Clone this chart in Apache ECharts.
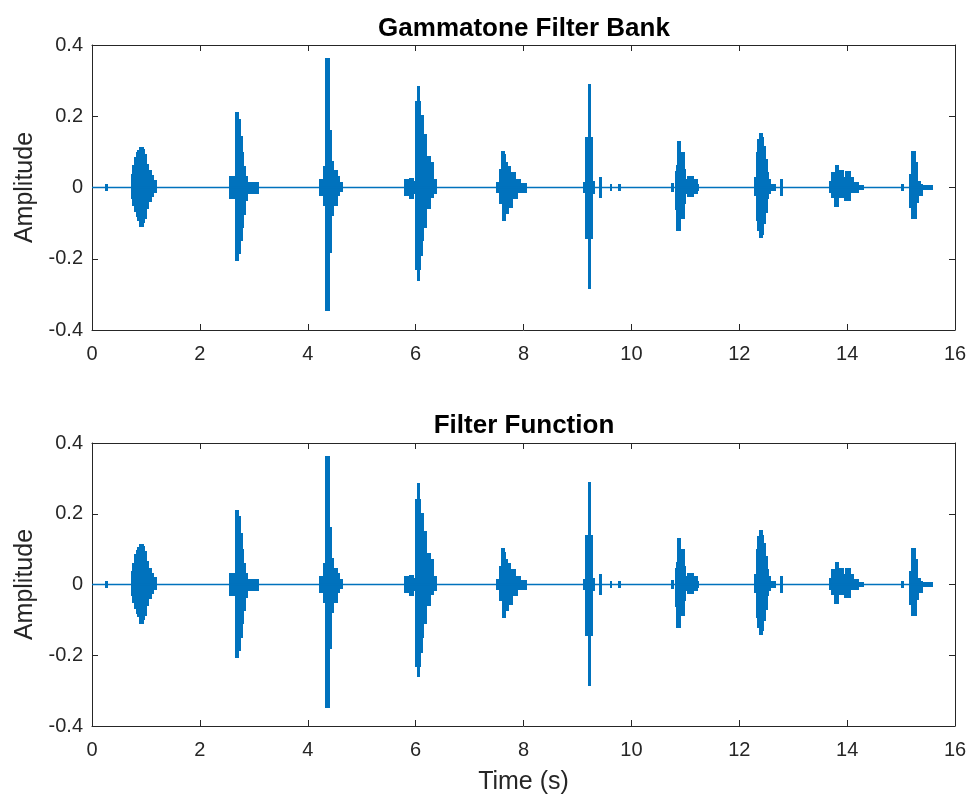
<!DOCTYPE html>
<html>
<head>
<meta charset="utf-8">
<script src="https://cdn.jsdelivr.net/npm/echarts@6/dist/echarts.min.js"></script>
<style>
html,body{margin:0;padding:0;background:#fff;}
#chart{width:974px;height:802px;}
</style>
</head>
<body>
<div id="chart"></div>
<script>
// Envelope of the waveform: each value holds from its time to the next time.
const envTime = [
  0, 0.265, 0.285,
  0.735, 0.766, 0.797, 0.828, 0.859, 0.89, 0.94, 0.964, 1.00, 1.044, 1.088, 1.137, 1.18,
  2.56, 2.67, 2.712, 2.744, 2.775, 2.806, 2.837, 2.868, 3.08,
  4.235, 4.255, 4.30, 4.338, 4.40, 4.425, 4.475, 4.536, 4.585, 4.63,
  5.803, 5.895, 5.957, 6.007, 6.05, 6.07, 6.09, 6.11, 6.14, 6.20, 6.265, 6.33, 6.38,
  7.50, 7.52, 7.564, 7.595, 7.626, 7.638, 7.657, 7.688, 7.719, 7.75, 7.78, 7.84, 7.873, 7.935, 8.046,
  9.127, 9.152, 9.207, 9.226, 9.276, 9.307, 9.418, 9.435, 9.616, 9.63, 9.77, 9.785,
  10.747, 10.77, 10.827, 10.848, 10.87, 10.905, 10.97, 11.00, 11.05, 11.15, 11.22, 11.24,
  12.291, 12.322, 12.353, 12.384, 12.415, 12.446, 12.477, 12.508, 12.539, 12.57, 12.66, 12.77, 12.79,
  13.682, 13.713, 13.774, 13.793, 13.836, 13.929, 13.96, 13.972, 14.052, 14.114, 14.20, 14.30,
  15.025, 15.04, 15.165, 15.208, 15.258, 15.276, 15.30, 15.32, 15.35, 15.38, 15.567
];
const envUpper = [
  0, 0.008, 0,
  0.036, 0.059, 0.082, 0.096, 0.103, 0.112, 0.106, 0.092, 0.064, 0.045, 0.031, 0.017, 0,
  0.03, 0.208, 0.19, 0.143, 0.097, 0.058, 0.03, 0.014, 0,
  0.02, 0, 0.058, 0.36, 0.16, 0.072, 0.045, 0.03, 0.013, 0,
  0.02, 0.025, 0.015, 0.24, 0.283, 0.24, 0.2, 0.2, 0.147, 0.086, 0.068, 0.02, 0,
  0.012, 0, 0.05, 0.10, 0.10, 0.09, 0.07, 0.058, 0.058, 0.04, 0.04, 0.02, 0.02, 0.01, 0,
  0.012, 0.138, 0.288, 0.138, 0.015, 0, 0.026, 0, 0.008, 0, 0.008, 0,
  0.01, 0, 0.044, 0.06, 0.129, 0.097, 0.05, 0.02, 0.03, 0.02, 0.008, 0,
  0.027, 0.097, 0.133, 0.15, 0.138, 0.115, 0.077, 0.04, 0.02, 0.008, 0, 0.02, 0,
  0.016, 0.04, 0.04, 0.06, 0.045, 0.027, 0.027, 0.044, 0.027, 0.013, 0.005, 0,
  0.008, 0, 0.036, 0.10, 0.068, 0.068, 0.016, 0.016, 0.008, 0.005, 0
];
const envLower = [
  0, -0.008, 0,
  -0.03, -0.049, -0.067, -0.081, -0.09, -0.108, -0.098, -0.086, -0.058, -0.039, -0.025, -0.012, 0,
  -0.03, -0.204, -0.185, -0.148, -0.11, -0.073, -0.036, -0.015, 0,
  -0.02, 0, -0.05, -0.345, -0.18, -0.078, -0.05, -0.02, -0.01, 0,
  -0.02, -0.03, -0.015, -0.23, -0.26, -0.23, -0.19, -0.147, -0.11, -0.058, -0.026, -0.015, 0,
  -0.012, 0, -0.044, -0.044, -0.092, -0.092, -0.072, -0.072, -0.054, -0.054, -0.03, -0.03, -0.012, -0.012, 0,
  -0.012, -0.143, -0.283, -0.143, -0.015, 0, -0.026, 0, -0.008, 0, -0.008, 0,
  -0.01, 0, -0.06, -0.12, -0.12, -0.086, -0.044, -0.015, -0.025, -0.015, -0.006, 0,
  -0.02, -0.092, -0.12, -0.14, -0.13, -0.10, -0.068, -0.03, -0.015, -0.008, 0, -0.02, 0,
  -0.013, -0.026, -0.051, -0.051, -0.026, -0.026, -0.035, -0.035, -0.013, -0.013, -0.005, 0,
  -0.008, 0, -0.054, -0.086, -0.086, -0.04, -0.04, -0.02, -0.02, -0.005, 0
];
const xTicks = [0, 2, 4, 6, 8, 10, 12, 14, 16];
const yTicks = [-0.4, -0.2, 0, 0.2, 0.4];
const panelTitles = ['Gammatone Filter Bank', 'Filter Function'];
const xLabel = 'Time (s)';
const yLabel = 'Amplitude';

const FONT = '"Liberation Sans", Arial, Helvetica, sans-serif';
const AX = '#262626';
const LINE = '#0072BD';

const chart = echarts.init(document.getElementById('chart'), null, {renderer: 'canvas'});

const grids = [
  {left: 92, right: 19, top: 45, height: 285},
  {left: 92, right: 19, top: 443, height: 283}
];

function fmt(v) {
  if (Math.abs(v) < 1e-9) return '0';
  return String(Math.round(v * 10) / 10);
}

// segments: [startTime, endTime, upper, lower]
const segments = [];
for (let k = 0; k < envTime.length - 1; k++) {
  if (envUpper[k] !== 0 || envLower[k] !== 0) {
    segments.push([envTime[k], envTime[k + 1], envUpper[k], envLower[k]]);
  }
}
const baseline = [[envTime[0], 0], [envTime[envTime.length - 1], 0]];

function renderSeg(params, api) {
  const p0 = api.coord([api.value(0), api.value(2)]);
  const p1 = api.coord([api.value(1), api.value(3)]);
  let x0 = Math.floor(p0[0] - 0.5), x1 = Math.ceil(p1[0] + 0.5);
  if (x1 - x0 < 2) x1 = x0 + 2;
  const y0 = Math.floor(p0[1] - 0.5), y1 = Math.ceil(p1[1] + 0.5);
  return {type: 'rect', shape: {x: x0, y: y0, width: x1 - x0, height: y1 - y0}, style: {fill: LINE}};
}

const xAxes = [], yAxes = [], series = [];
grids.forEach((g, i) => {
  const tickStyle = {show: true, inside: true, length: 6, lineStyle: {color: AX, width: 1}};
  xAxes.push({
    gridIndex: i, type: 'value', position: 'bottom',
    min: xTicks[0], max: xTicks[xTicks.length - 1], interval: 2,
    axisLine: {show: true, onZero: false, lineStyle: {color: AX, width: 1}},
    axisTick: tickStyle,
    splitLine: {show: false},
    axisLabel: {show: true, color: AX, fontFamily: FONT, fontSize: 20, margin: 14, formatter: fmt},
    name: i === 1 ? xLabel : '', nameLocation: 'middle', nameGap: 44,
    nameTextStyle: {color: AX, fontFamily: FONT, fontSize: 25}
  });
  xAxes.push({
    gridIndex: i, type: 'value', position: 'top',
    min: xTicks[0], max: xTicks[xTicks.length - 1], interval: 2,
    axisLine: {show: true, onZero: false, lineStyle: {color: AX, width: 1}},
    axisTick: tickStyle, splitLine: {show: false}, axisLabel: {show: false}
  });
  yAxes.push({
    gridIndex: i, type: 'value', position: 'left',
    min: yTicks[0], max: yTicks[yTicks.length - 1], interval: 0.2,
    axisLine: {show: true, onZero: false, lineStyle: {color: AX, width: 1}},
    axisTick: tickStyle, splitLine: {show: false},
    axisLabel: {show: true, color: AX, fontFamily: FONT, fontSize: 20, margin: 9, formatter: fmt},
    name: yLabel, nameLocation: 'middle', nameGap: 50, nameRotate: 90,
    nameTextStyle: {color: AX, fontFamily: FONT, fontSize: 25}
  });
  yAxes.push({
    gridIndex: i, type: 'value', position: 'right',
    min: yTicks[0], max: yTicks[yTicks.length - 1], interval: 0.2,
    axisLine: {show: true, onZero: false, lineStyle: {color: AX, width: 1}},
    axisTick: tickStyle, splitLine: {show: false}, axisLabel: {show: false}
  });
  series.push({
    type: 'line', xAxisIndex: i * 2, yAxisIndex: i * 2, data: baseline,
    symbol: 'none', silent: true, animation: false,
    lineStyle: {color: LINE, width: 1.5}
  });
  series.push({
    type: 'custom', xAxisIndex: i * 2, yAxisIndex: i * 2, data: segments,
    encode: {x: [0, 1], y: [2, 3]}, renderItem: renderSeg,
    silent: true, animation: false, clip: true
  });
});

chart.setOption({
  backgroundColor: '#ffffff',
  animation: false,
  title: [
    {text: panelTitles[0], left: 519, top: 11, textAlign: 'center',
     textStyle: {fontFamily: FONT, fontSize: 26, fontWeight: 'bold', color: '#000'}},
    {text: panelTitles[1], left: 519, top: 408, textAlign: 'center',
     textStyle: {fontFamily: FONT, fontSize: 26, fontWeight: 'bold', color: '#000'}}
  ],
  grid: grids,
  xAxis: xAxes,
  yAxis: yAxes,
  series: series
});
</script>
</body>
</html>
